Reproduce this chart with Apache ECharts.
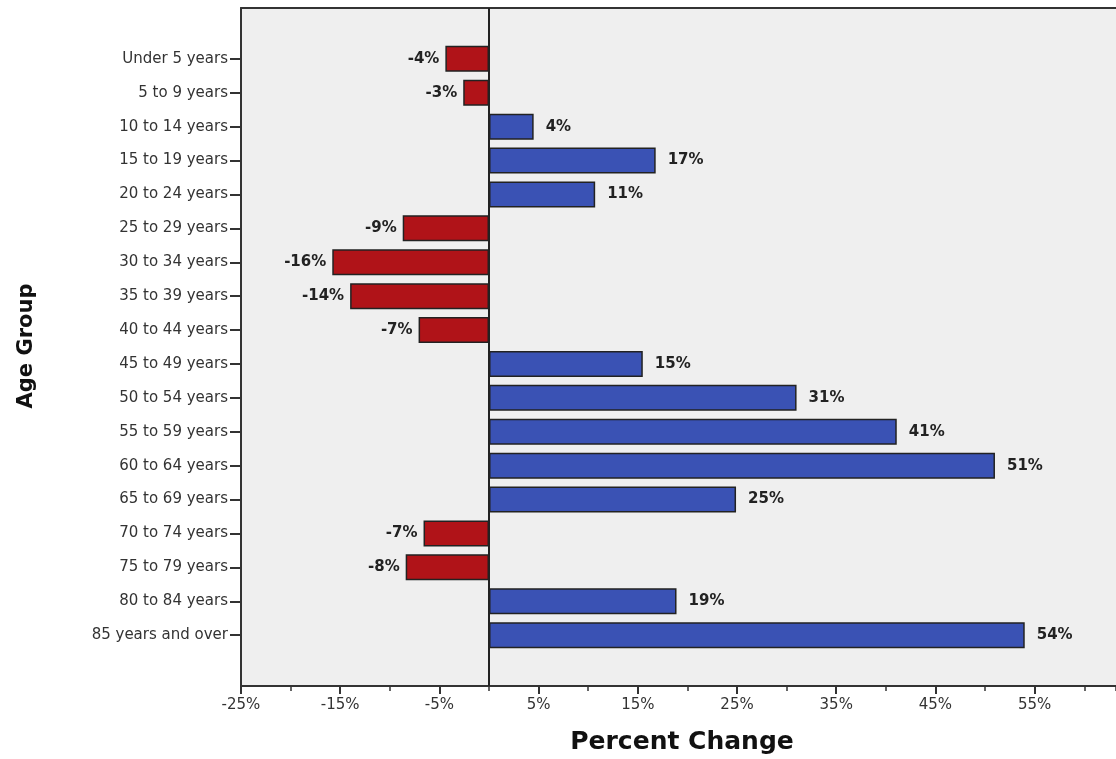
<!DOCTYPE html>
<html><head><meta charset="utf-8">
<script src="https://cdn.jsdelivr.net/npm/echarts@6/dist/echarts.min.js"></script>
<style>html,body{margin:0;padding:0;background:#fff}#c{width:1116px;height:759px}</style>
</head><body><div id="c"></div>
<script>
const categories = ['Under 5 years','5 to 9 years','10 to 14 years','15 to 19 years','20 to 24 years','25 to 29 years','30 to 34 years','35 to 39 years','40 to 44 years','45 to 49 years','50 to 54 years','55 to 59 years','60 to 64 years','65 to 69 years','70 to 74 years','75 to 79 years','80 to 84 years','85 years and over'];
const values = [-4.4, -2.6, 4.5, 16.8, 10.7, -8.7, -15.8, -14.0, -7.1, 15.5, 31.0, 41.1, 51.0, 24.9, -6.6, -8.4, 18.9, 54.0];
const valueLabels = ['-4%','-3%','4%','17%','11%','-9%','-16%','-14%','-7%','15%','31%','41%','51%','25%','-7%','-8%','19%','54%'];
const xTitle = 'Percent Change';
const yTitle = 'Age Group';
const xMin = -25, xMax = 63.2;

const RED = '#b01318', BLUE = '#3a52b4';
const padCats = [''].concat(categories, ['']);
const seriesData = ['-'].concat(values.map(v => ({
  value: v,
  itemStyle: { color: v < 0 ? RED : BLUE },
  label: { position: v < 0 ? 'left' : 'right', distance: v < 0 ? 6 : 12 }
})), ['-']);

const chart = echarts.init(document.getElementById('c'), null, { renderer: 'canvas' });
chart.setOption({
  animation: false,
  backgroundColor: '#fff',
  textStyle: { fontFamily: 'DejaVu Sans' },
  grid: { left: 241, top: 8, bottom: 73, right: 0, show: true, backgroundColor: '#efefef', borderWidth: 0 },
  xAxis: [{
    type: 'value', min: xMin, max: xMax, interval: 10,
    axisLine: { show: true, onZero: false, lineStyle: { color: '#333', width: 2 } },
    axisTick: { show: true, length: 8, lineStyle: { color: '#333', width: 2 } },
    splitLine: { show: false },
    axisLabel: { formatter: v => v + '%', showMaxLabel: false, margin: 12, fontSize: 15, color: '#333', fontFamily: 'DejaVu Sans' }
  }, {
    type: 'value', min: xMin, max: xMax, interval: 5, position: 'bottom',
    axisLine: { show: false },
    axisTick: { show: true, length: 5, lineStyle: { color: '#333', width: 1.5 } },
    splitLine: { show: false }, axisLabel: { show: false }
  }, {
    type: 'value', min: xMin, max: xMax, position: 'top',
    axisLine: { show: true, onZero: false, lineStyle: { color: '#333', width: 2 } },
    axisTick: { show: false }, splitLine: { show: false }, axisLabel: { show: false }
  }],
  yAxis: {
    type: 'category', data: padCats, inverse: true,
    axisLine: { show: true, onZero: false, lineStyle: { color: '#333', width: 2 } },
    axisTick: { show: true, length: 11, alignWithLabel: true, interval: (i) => i > 0 && i < padCats.length - 1, lineStyle: { color: '#333', width: 2 } },
    axisLabel: { interval: 0, margin: 13, fontSize: 15, color: '#333', fontFamily: 'DejaVu Sans' },
    splitLine: { show: false }
  },
  graphic: [
    { type: 'text', x: 682, y: 742, style: { text: xTitle, align: 'center', verticalAlign: 'middle', font: 'bold 25px "DejaVu Sans"', fill: '#111' }, z: 10 },
    { type: 'text', x: 27, y: 346, rotation: Math.PI / 2, style: { text: yTitle, align: 'center', verticalAlign: 'middle', font: 'bold 21px "DejaVu Sans"', fill: '#111' }, z: 10 }
  ],
  series: [{
    type: 'bar', data: seriesData, barWidth: 26, xAxisIndex: 0,
    itemStyle: { borderColor: '#222', borderWidth: 1.5 },
    label: { show: true, fontSize: 15, fontWeight: 'bold', color: '#222', fontFamily: 'DejaVu Sans',
      formatter: p => valueLabels[p.dataIndex - 1] },
    markLine: { silent: true, symbol: 'none', label: { show: false },
      lineStyle: { color: '#222', width: 2, type: 'solid' }, data: [{ xAxis: 0 }] }
  }]
});
</script></body></html>
